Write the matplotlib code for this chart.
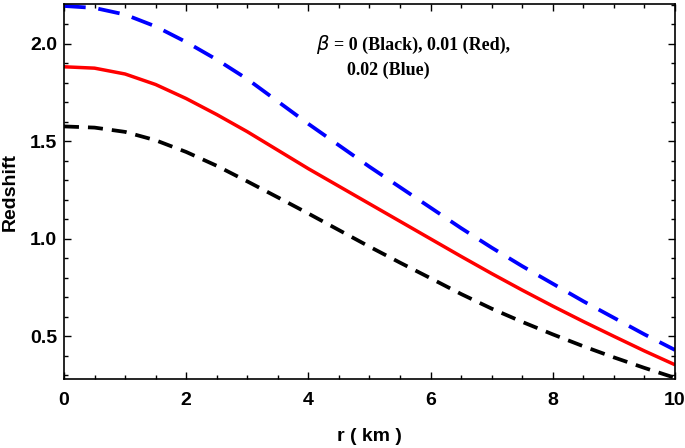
import numpy as np
import matplotlib
matplotlib.use('Agg')
import matplotlib.pyplot as plt
from matplotlib.ticker import MultipleLocator

# r in km, every 0.5 km
r_km = [0, 0.5, 1, 1.5, 2, 2.5, 3, 3.5, 4, 4.5, 5, 5.5, 6, 6.5, 7, 7.5, 8, 8.5, 9, 9.5, 10]

# beta = 0 (black)
z_black = [1.577, 1.571, 1.549, 1.506, 1.446, 1.375, 1.295, 1.213, 1.13, 1.045, 0.96,
           0.878, 0.798, 0.717, 0.642, 0.574, 0.51, 0.449, 0.392, 0.338, 0.287]
# beta = 0.01 (red)
z_red = [1.883, 1.876, 1.846, 1.792, 1.72, 1.638, 1.55, 1.455, 1.36, 1.27, 1.18,
         1.09, 1.00, 0.91, 0.822, 0.737, 0.655, 0.576, 0.50, 0.425, 0.354]
# beta = 0.02 (blue)
z_blue = [2.195, 2.185, 2.151, 2.09, 2.01, 1.92, 1.82, 1.705, 1.59, 1.48, 1.37,
          1.265, 1.16, 1.055, 0.955, 0.86, 0.77, 0.68, 0.595, 0.51, 0.43]

tick_font = ['Liberation Sans Narrow', 'Liberation Sans', 'DejaVu Sans']
note_font = ['Liberation Serif', 'DejaVu Serif']

fig = plt.figure(figsize=(6.85, 4.48), dpi=100)
ax = fig.add_axes([0.0934, 0.154, 0.892, 0.837])

ax.plot(r_km, z_black, color='black', lw=2.7, dashes=(4.0, 2.4), dash_capstyle='butt')
ax.plot(r_km, z_red, color='red', lw=2.5, solid_capstyle='butt')
ax.plot(r_km, z_blue, color='blue', lw=2.7, dashes=(5.8, 3.4), dash_capstyle='butt')

ax.set_xlim(0, 10)
ax.set_ylim(0.281, 2.205)

ax.xaxis.set_major_locator(MultipleLocator(2))
ax.xaxis.set_minor_locator(MultipleLocator(0.5))
ax.yaxis.set_major_locator(MultipleLocator(0.5))
ax.yaxis.set_minor_locator(MultipleLocator(0.1))
ax.tick_params(which='both', direction='in', top=True, right=True, width=1.0)
ax.tick_params(which='major', length=5)
ax.tick_params(which='minor', length=3)
ax.tick_params(axis='x', pad=9)
ax.tick_params(axis='y', pad=5)
for s in ax.spines.values():
    s.set_linewidth(1.2)

ax.set_xticklabels([f'{int(v)}' for v in ax.get_xticks()])
ax.set_yticklabels([f'{v:.1f}' for v in ax.get_yticks()])
for lab in ax.get_xticklabels() + ax.get_yticklabels():
    lab.set_family(tick_font)
    lab.set_fontweight('bold')
    lab.set_fontsize(14)

ax.set_xlabel('r ( km )', family=tick_font, fontweight='bold', fontsize=14, labelpad=14)
ax.set_ylabel('Redshift', family=tick_font, fontweight='bold', fontsize=14, labelpad=8)

# annotation (serif, bold, two lines)
fig.text(316 / 685, 1 - 45 / 448, r'$\beta$', fontsize=14,
         fontweight='bold', family=note_font, va='center', ha='left')
fig.text(334 / 685, 1 - 45 / 448, '= 0 (Black), 0.01 (Red),', fontsize=13,
         fontweight='bold', family=note_font, va='center', ha='left')
fig.text(347 / 685, 1 - 70 / 448, '0.02 (Blue)', fontsize=13,
         fontweight='bold', family=note_font, va='center', ha='left')

fig.savefig('out.png', dpi=100)
